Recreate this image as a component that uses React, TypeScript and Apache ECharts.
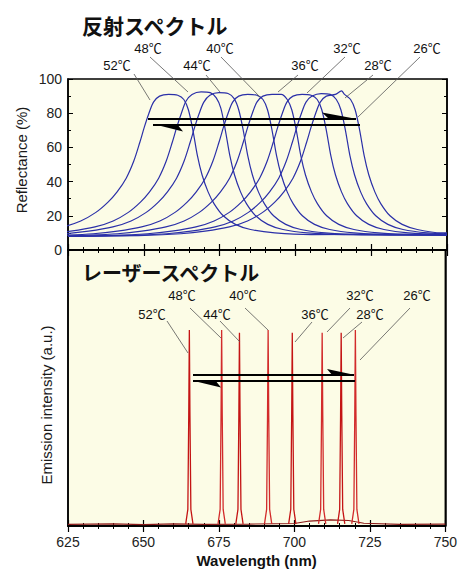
import React, { useEffect, useRef } from "react";
import * as echarts from "echarts";

// ---------- DATA ----------
const temps = ["52℃", "48℃", "44℃", "40℃", "36℃", "32℃", "28℃", "26℃"];
const xTicks = [625, 650, 675, 700, 725, 750];
const yTicks = [0, 20, 40, 60, 80, 100];

// Reflectance spectra [wavelength nm, reflectance %]
const refl52 = [[595.2,8.5],[607.2,9.5],[615.2,11],[623.2,13.5],[629.2,17],[634.2,22],[638.2,28],[641.2,34],[644.2,42],[646.7,52],[648.7,63],[650.2,72],[651.7,80],[653.2,86.5],[655.2,90],[658.2,91],[661.2,90.5],[663.2,88],[664.7,82],[666.2,70],[667.7,55],[669.2,44],[671.2,34],[673.2,27],[676.2,20],[680.2,15],[685.2,12],[693.2,10],[705.2,9],[730,9.2],[750,9]];
const refl48 = [[605.9,8.5],[617.9,9.5],[625.9,11],[633.9,13.5],[639.9,17],[644.9,22],[648.9,28],[651.9,34],[654.9,42],[657.4,52],[659.4,63],[660.9,72],[662.4,80],[663.9,87],[665.9,91],[668.9,92.5],[671.9,92],[673.9,89],[675.4,83],[676.9,70],[678.4,55],[679.9,44],[681.9,34],[683.9,27],[686.9,20],[690.9,15],[695.9,12],[703.9,10],[715.9,9],[750,8.5]];
const refl44 = [[611.8,8.5],[623.8,9.5],[631.8,11],[639.8,13.5],[645.8,17],[650.8,22],[654.8,28],[657.8,34],[660.8,42],[663.3,52],[665.3,63],[666.8,72],[668.3,80],[669.8,86.5],[671.8,90.5],[674.8,92],[677.8,91.5],[679.8,88.5],[681.3,82],[682.8,70],[684.3,55],[685.8,44],[687.8,34],[689.8,27],[692.8,20],[696.8,15],[701.8,12],[709.8,10],[721.8,9],[750,9]];
const refl40 = [[621.3,8.5],[633.3,9.5],[641.3,11],[649.3,13.5],[655.3,17],[660.3,22],[664.3,28],[667.3,34],[670.3,42],[672.8,52],[674.8,63],[676.3,72],[677.8,80],[679.3,86.5],[681.3,90],[684.3,91],[687.3,90.5],[689.3,88],[690.8,82],[692.3,70],[693.8,55],[695.3,44],[697.3,34],[699.3,27],[702.3,20],[706.3,15],[711.3,12],[719.3,10],[731.3,9],[750,9]];
const refl36 = [[625,8.3],[629.3,8.5],[641.3,9.5],[649.3,11],[657.3,13.5],[663.3,17],[668.3,22],[672.3,28],[675.3,34],[678.3,42],[680.8,52],[682.8,63],[684.3,72],[685.8,80],[687.3,86.5],[689.3,90],[692.3,91],[695.3,91],[697.3,88],[698.8,82],[700.3,70],[701.8,55],[703.3,44],[705.3,34],[707.3,27],[710.3,20],[714.3,15],[719.3,12],[727.3,10],[739.3,9],[750,9]];
const refl32 = [[625,8],[639.2,8.5],[651.2,9.5],[659.2,11],[667.2,13.5],[673.2,17],[678.2,22],[682.2,28],[685.2,34],[688.2,42],[690.7,52],[692.7,63],[694.2,72],[695.7,80],[697.2,86.5],[699.2,90],[702.2,91],[705.2,90.5],[707.2,88],[708.7,82],[710.2,70],[711.7,55],[713.2,44],[715.2,34],[717.2,27],[720.2,20],[724.2,15],[729.2,12],[737.2,10],[750,9]];
const refl28 = [[625,8],[645.5,8.5],[657.5,9.5],[665.5,11],[673.5,13.5],[679.5,17],[684.5,22],[688.5,28],[691.5,34],[694.5,42],[697,52],[699,63],[700.5,72],[702,80],[703.5,86.5],[705.5,90],[708.5,91.5],[711.5,91],[713.5,88],[715,82],[716.5,70],[718,55],[719.5,44],[721.5,34],[723.5,27],[726.5,20],[730.5,15],[735.5,12],[743.5,10],[750,9.5]];
const refl26 = [[625,8],[650.2,8.5],[662.2,9.5],[670.2,11],[678.2,13.5],[684.2,17],[689.2,22],[693.2,28],[696.2,34],[699.2,42],[701.7,52],[703.7,63],[705.2,72],[706.7,80],[708.2,86.5],[710.2,90],[713.2,91],[715.2,93],[716.2,91],[718.2,88],[719.7,82],[721.2,70],[722.7,55],[724.2,44],[726.2,34],[728.2,27],[731.2,20],[735.2,15],[740.2,12],[748.2,10],[750,10]];
const reflData = [refl52, refl48, refl44, refl40, refl36, refl32, refl28, refl26];

// Laser spectra [wavelength nm, intensity a.u.]
const laser52 = [[664.0,0.8],[664.7,6],[665.0,40],[665.2,71],[665.4,40],[665.7,6],[666.4,0.8]];
const laser48 = [[674.7,0.8],[675.4,6],[675.7,40],[675.9,71],[676.1,40],[676.4,6],[677.1,0.8]];
const laser44 = [[680.6,0.8],[681.3,6],[681.6,40],[681.8,70],[682.0,40],[682.3,6],[683.0,0.8]];
const laser40 = [[690.1,0.8],[690.8,6],[691.1,40],[691.3,71],[691.5,40],[691.8,6],[692.5,0.8]];
const laser36 = [[698.1,0.8],[698.8,6],[699.1,40],[699.3,70],[699.5,40],[699.8,6],[700.5,0.8]];
const laser32 = [[708.0,0.8],[708.7,6],[709.0,40],[709.2,70],[709.4,40],[709.7,6],[710.4,0.8]];
const laser28 = [[714.3,0.8],[715.0,6],[715.3,40],[715.5,70],[715.7,40],[716.0,6],[716.7,0.8]];
const laser26 = [[719.0,0.8],[719.7,6],[720.0,40],[720.2,71],[720.4,40],[720.7,6],[721.4,0.8]];
const laserData = [laser52, laser48, laser44, laser40, laser36, laser32, laser28, laser26];
const laserBase = [[625,0.6],[640,0.8],[650,0.5],[660,0.8],[670,0.6],[685,0.7],[700,0.9],[705,1.8],[712,2.2],[718,2.0],[723,1.0],[735,0.6],[750,0.7]];

// ---------- LAYOUT (annotations, pixels) ----------
const upperLabels = [
  { x: 117, y: 65, l: [134, 74, 150, 100] },
  { x: 148, y: 48, l: [150, 57, 188, 92] },
  { x: 197, y: 65, l: [206, 75, 220, 92] },
  { x: 220, y: 48, l: [221, 57, 260, 97] },
  { x: 305, y: 65, l: [298, 75, 278, 92] },
  { x: 347, y: 48, l: [345, 57, 307, 93] },
  { x: 378, y: 65, l: [373, 75, 345, 98] },
  { x: 427, y: 48, l: [420, 57, 358, 117] },
];
const lowerLabels = [
  { x: 152, y: 314, l: [167, 321, 188, 353] },
  { x: 182, y: 295, l: [190, 308, 221, 338] },
  { x: 217, y: 314, l: [220, 321, 240, 342] },
  { x: 243, y: 295, l: [245, 308, 268, 330] },
  { x: 315, y: 314, l: [312, 322, 295, 342] },
  { x: 360, y: 295, l: [350, 308, 327, 332] },
  { x: 370, y: 314, l: [362, 322, 343, 338] },
  { x: 417, y: 295, l: [410, 308, 360, 360] },
];

const LATIN = "'Liberation Sans', Arial, 'Noto Sans CJK JP', sans-serif";
const CJK = "'Noto Sans CJK JP', sans-serif";

export default function App() {
  const ref = useRef<HTMLDivElement>(null);
  useEffect(() => {
    if (!ref.current) return;
    const chart = echarts.init(ref.current, null, { renderer: "svg" });
    const tick = { inside: true, length: 6, lineStyle: { color: "#000", width: 1.2 } };
    const minor = { show: true, splitNumber: 5, length: 3, lineStyle: { color: "#000", width: 1 } };
    const axLine = { show: true, lineStyle: { color: "#000", width: 1.5 } };
    const xBase = {
      type: "value", min: xTicks[0], max: xTicks[xTicks.length - 1], interval: 25,
      axisLine: axLine, splitLine: { show: false }, minorSplitLine: { show: false },
    };
    const yBase = {
      type: "value", min: yTicks[0], max: yTicks[yTicks.length - 1], interval: 20,
      axisLine: axLine, splitLine: { show: false },
    };
    const graphic: any[] = [];
    graphic.push({ type: "text", x: 82, y: 25, style: { text: "反射スペクトル", font: `bold 21px ${CJK}`, fill: "#111", verticalAlign: "middle" } });
    graphic.push({ type: "text", x: 82, y: 272, z: 100, style: { text: "レーザースペクトル", font: `bold 20px ${CJK}`, fill: "#111", verticalAlign: "middle" } });
    graphic.push({ type: "text", x: 21, y: 160, rotation: Math.PI / 2, style: { text: "Reflectance (%)", font: `15px ${LATIN}`, fill: "#1a1a1a", align: "center", verticalAlign: "middle" } });
    graphic.push({ type: "text", x: 46, y: 405, rotation: Math.PI / 2, style: { text: "Emission intensity (a.u.)", font: `15px ${LATIN}`, fill: "#1a1a1a", align: "center", verticalAlign: "middle" } });
    const addLabels = (arr: any[]) => {
      arr.forEach((a, i) => {
        graphic.push({ type: "text", x: a.x, y: a.y, z: 100, style: { text: temps[i], font: `13px ${LATIN}`, fill: "#111", align: "center", verticalAlign: "middle" } });
        graphic.push({ type: "line", z: 100, shape: { x1: a.l[0], y1: a.l[1], x2: a.l[2], y2: a.l[3] }, style: { stroke: "#555", lineWidth: 0.8 } });
      });
    };
    addLabels(upperLabels);
    addLabels(lowerLabels);
    const arrowLine = (x1: number, y: number, x2: number) =>
      graphic.push({ type: "line", z: 100, shape: { x1, y1: y, x2, y2: y }, style: { stroke: "#000", lineWidth: 1.8 } });
    const head = (pts: number[][]) => graphic.push({ type: "polygon", z: 100, shape: { points: pts }, style: { fill: "#000" } });
    arrowLine(148, 119, 356);
    head([[322, 112.5], [357, 119], [330, 120]]);
    arrowLine(153, 125, 360);
    head([[157, 125], [183, 131.5], [177, 124]]);
    arrowLine(193, 375, 354);
    head([[327, 369], [355, 375], [333, 376]]);
    arrowLine(193, 381, 355);
    head([[194, 381], [221, 387.5], [215, 380]]);

    const series: any[] = [];
    reflData.forEach((d, i) =>
      series.push({ type: "line", name: "R" + temps[i], xAxisIndex: 0, yAxisIndex: 0, data: d, showSymbol: false, smooth: 0.3, clip: true, lineStyle: { color: "#2b30a8", width: 1.2 } })
    );
    series.push({ type: "line", name: "base", xAxisIndex: 3, yAxisIndex: 2, data: laserBase, showSymbol: false, clip: true, lineStyle: { color: "#8b1a1a", width: 1.2 } });
    laserData.forEach((d, i) =>
      series.push({ type: "line", name: "L" + temps[i], xAxisIndex: 3, yAxisIndex: 2, data: d, showSymbol: false, clip: true, lineStyle: { color: i % 2 ? "#d22b2b" : "#c41414", width: 1.3 } })
    );

    chart.setOption({
      animation: false,
      backgroundColor: "#ffffff",
      grid: [
        { left: 68, top: 79, width: 379, height: 171, show: true, backgroundColor: "#fcfce6", borderColor: "#000", borderWidth: 1.5 },
        { left: 68, top: 250, width: 379, height: 277, show: true, backgroundColor: "#fcfce6", borderColor: "#000", borderWidth: 1.5 },
      ],
      xAxis: [
        { ...xBase, gridIndex: 0, position: "bottom", axisTick: tick, minorTick: minor, axisLabel: { show: false } },
        { ...xBase, gridIndex: 0, position: "top", axisTick: tick, minorTick: minor, axisLabel: { show: false } },
        { ...xBase, gridIndex: 1, position: "top", axisTick: tick, minorTick: minor, axisLabel: { show: false } },
        {
          ...xBase, gridIndex: 1, position: "bottom", axisTick: tick, minorTick: minor,
          axisLabel: { show: true, fontSize: 14, color: "#222", fontFamily: LATIN, margin: 9 },
          name: "Wavelength (nm)", nameLocation: "middle", nameGap: 27,
          nameTextStyle: { fontSize: 15, fontWeight: "bold", color: "#111", fontFamily: LATIN },
        },
      ],
      yAxis: [
        { ...yBase, gridIndex: 0, position: "left", axisTick: { inside: true, length: 5, lineStyle: { color: "#000" } }, minorTick: { show: true, splitNumber: 2, length: 3, lineStyle: { color: "#000" } }, axisLabel: { fontSize: 14, color: "#222", fontFamily: LATIN, margin: 6 } },
        { ...yBase, gridIndex: 0, position: "right", axisTick: { inside: true, length: 5, lineStyle: { color: "#000" } }, minorTick: { show: true, splitNumber: 2, length: 3, lineStyle: { color: "#000" } }, axisLabel: { show: false } },
        { ...yBase, gridIndex: 1, position: "left", axisTick: { show: false }, axisLabel: { show: false } },
        { ...yBase, gridIndex: 1, position: "right", axisTick: { show: false }, axisLabel: { show: false } },
      ],
      series,
      graphic,
    });
    return () => chart.dispose();
  }, []);
  return <div ref={ref} style={{ position: "fixed", left: 0, top: 0, width: 460, height: 569 }} />;
}
